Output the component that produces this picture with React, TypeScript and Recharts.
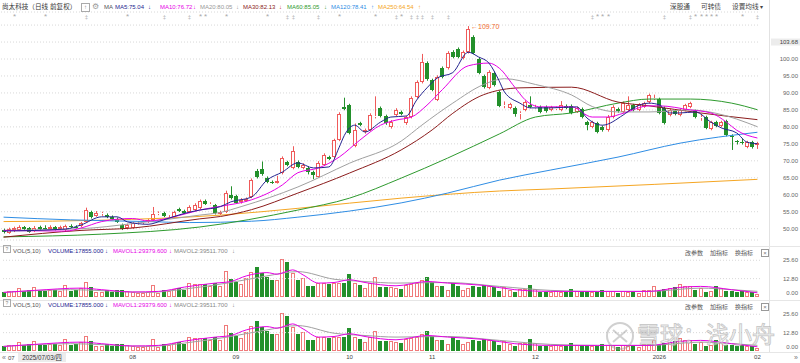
import React from "react";
import { ComposedChart, Bar, Line, XAxis, YAxis, CartesianGrid, ReferenceLine } from "recharts";

// ---- daily candles (2025/07/03 .. 2026/02) ----
const opens = [49.6,48.8,49.5,49.6,50.4,50.2,49.3,50.4,50.3,50.0,50.5,49.9,49.5,50.9,50.6,50.7,52.0,54.9,53.8,54.2,54.0,53.5,53.0,51.2,50.2,50.3,51.5,51.6,52.0,52.6,54.5,54.6,53.4,53.4,55.8,55.2,54.9,55.5,56.1,58.2,57.2,57.0,54.3,54.9,59.9,59.6,57.8,58.3,59.3,67.0,67.6,65.0,63.8,63.6,66.4,69.6,67.9,69.6,67.9,68.0,66.7,65.2,68.8,71.1,71.1,76.1,85.8,86.4,74.4,81.1,78.5,79.0,82.9,85.6,83.2,80.0,83.5,84.4,81.1,82.9,88.8,93.2,98.8,93.8,88.0,97.3,97.3,102.0,102.9,100.3,102.0,106.5,100.0,95.0,91.5,95.9,90.3,86.2,85.6,85.6,83.8,85.0,86.4,85.8,85.9,85.9,85.0,85.3,85.0,86.2,86.2,84.5,85.3,81.4,80.0,81.1,80.0,79.0,82.9,85.3,84.4,85.0,86.4,85.0,86.0,87.3,88.3,88.2,85.6,83.5,84.7,83.5,85.0,85.9,84.7,82.6,82.9,79.4,81.4,80.3,81.7,77.3,75.7,75.5,74.1,75.5,74.6];
const closes = [49.0,49.8,50.2,50.5,49.8,49.0,50.3,50.0,50.1,50.6,49.8,50.4,50.8,50.5,50.2,51.6,55.5,53.4,54.6,54.5,53.4,52.9,52.0,50.0,51.0,51.6,51.8,52.0,52.5,54.3,54.6,53.7,53.5,54.9,55.2,54.6,56.4,57.0,58.2,57.3,57.4,54.6,54.9,60.5,59.0,57.6,58.5,58.8,64.3,65.2,66.1,63.8,63.6,64.0,70.8,68.8,73.0,68.3,68.8,66.7,65.8,69.4,71.7,70.5,76.1,83.8,85.3,78.2,79.0,80.5,79.0,83.5,83.1,83.2,81.1,81.4,85.0,83.8,82.9,88.5,93.2,99.1,94.0,90.9,94.7,94.7,101.8,100.6,100.6,102.0,108.8,101.8,95.9,91.7,96.2,92.3,86.2,86.4,86.7,83.8,84.2,87.3,85.9,86.0,84.4,84.6,85.8,85.6,86.4,85.6,84.1,85.6,82.9,80.5,81.4,78.5,79.0,82.9,85.9,84.6,87.0,86.4,85.0,86.6,87.0,89.4,88.6,84.1,81.1,85.0,83.8,85.0,86.4,87.0,82.9,82.9,79.7,81.4,80.3,81.4,77.6,77.0,75.4,75.2,75.5,74.0,75.2];
const highs = [50.0,50.3,50.6,51.0,50.8,50.5,50.8,50.9,51.0,51.0,50.8,50.9,51.2,51.3,51.0,52.0,56.2,55.3,55.2,55.0,54.5,53.9,53.3,51.5,51.5,51.9,52.2,52.4,52.9,56.4,55.1,55.0,54.0,55.3,56.2,55.6,56.9,57.5,58.6,58.6,57.8,57.3,55.3,61.2,62.5,60.0,59.0,59.2,64.8,67.6,69.8,65.4,64.2,65.6,71.3,70.0,74.3,70.1,69.3,68.4,67.1,69.9,72.2,71.5,76.5,84.3,88.6,86.8,81.0,81.5,79.5,84.0,89.0,86.0,83.6,82.0,85.5,84.8,83.3,89.0,93.7,101.5,99.3,94.2,95.2,97.8,102.3,102.6,103.4,102.5,109.7,107.0,100.5,95.4,96.7,96.3,90.7,87.5,87.1,86.0,84.6,87.8,89.0,86.5,86.3,86.3,86.2,86.0,87.6,86.6,86.6,86.0,85.7,81.8,81.8,81.5,80.4,83.5,86.4,85.7,87.5,89.0,86.8,87.0,87.4,89.8,89.5,88.6,86.0,85.4,85.1,85.4,86.8,87.4,85.1,83.8,83.3,81.8,81.8,81.8,82.1,77.8,76.1,76.5,75.9,75.9,75.6];
const lows = [48.6,48.5,49.0,49.3,49.5,48.8,49.0,49.6,49.8,49.7,49.5,49.6,49.2,50.2,50.0,50.4,51.8,53.0,53.5,53.8,53.1,52.6,51.7,49.6,49.8,50.0,51.2,51.4,51.7,52.4,54.0,53.4,53.0,53.2,54.9,54.3,54.6,55.2,55.8,57.0,56.9,54.2,54.0,54.6,58.6,57.3,57.4,58.0,59.0,64.8,65.6,63.4,63.2,63.3,66.0,68.4,67.5,67.8,67.5,66.0,64.6,65.0,68.5,70.2,70.8,75.8,84.9,77.8,74.0,80.2,78.0,78.7,82.5,82.8,80.6,79.5,83.2,83.4,80.6,82.5,88.4,92.8,93.6,90.5,87.6,94.3,96.9,100.2,100.2,99.9,101.6,101.4,95.5,91.3,91.1,91.9,85.8,85.5,85.2,83.0,82.2,84.6,85.5,85.4,84.0,84.2,84.6,85.0,84.6,85.2,83.7,84.1,82.5,79.0,79.6,78.1,78.6,78.6,82.5,84.2,84.0,84.6,84.6,84.6,85.6,86.9,87.9,83.7,80.7,83.1,83.4,83.1,84.6,85.5,82.5,81.8,79.3,79.0,79.9,79.9,77.2,73.2,74.8,74.8,73.7,73.6,73.5];
// volume, in 10k lots
const volumes = [3.2,3.9,3.9,6.2,4.4,5.1,6.7,3.9,4.4,5.1,5.1,3.9,8.1,3.9,5.1,6.2,10.4,6.7,3.5,3.5,4.6,3.5,5.1,5.1,3.9,3.5,2.8,2.8,3.2,8.1,2.8,5.1,4.4,5.5,6.2,5.1,10.1,9.0,9.0,9.2,7.4,10.1,7.4,18.2,12.4,10.4,9.0,13.1,17.1,20.7,16.6,13.6,12.0,12.0,26.3,24.2,16.6,12.0,13.1,7.8,7.8,10.1,10.1,9.0,10.1,9.7,10.1,16.1,10.1,8.5,6.2,10.1,13.8,6.9,6.9,6.7,6.2,5.8,8.5,9.2,9.7,11.5,13.8,10.8,7.8,7.8,5.1,10.1,7.4,5.1,6.2,7.4,6.9,8.5,7.4,6.7,4.4,6.7,4.6,3.5,5.5,5.5,8.1,5.5,3.5,3.5,3.5,3.9,3.2,3.5,5.5,3.9,3.9,3.9,3.5,3.2,4.6,3.9,3.9,2.8,3.9,3.5,3.2,2.8,4.6,4.6,7.4,3.9,5.5,6.2,6.9,9.0,7.4,7.8,4.6,6.2,3.2,3.9,7.8,6.2,4.4,3.9,3.5,3.9,3.5,3.5,1.8];

// moving averages: [candle index, value]
const ma5Pts = [[0,49.3],[12,49.9],[15,51.1],[19,53.5],[22,53.5],[24,52.0],[28,51.3],[31,52.6],[35,54.5],[38,55.5],[42,56.5],[44,57.9],[48,59.3],[51,64.3],[54,66.7],[57,69.4],[60,67.9],[63,68.2],[65,74.0],[66,77.5],[68,80.5],[70,78.5],[73,81.4],[75,82.9],[78,83.2],[80,87.9],[82,91.5],[84,94.4],[87,96.0],[90,102.0],[92,100.6],[94,98.8],[96,93.5],[97,90.3],[100,87.0],[102,85.6],[106,85.6],[111,85.9],[113,82.6],[116,80.5],[120,83.5],[122,85.6],[125,87.0],[127,86.5],[129,84.1],[131,84.1],[134,84.4],[137,81.4],[139,79.7],[142,78.2],[144,75.5],[146,75.04]];
const ma10Pts = [[0,49.5],[12,49.3],[15,50.2],[19,52.1],[22,52.8],[25,53.0],[28,52.3],[33,53.5],[38,55.5],[42,56.6],[48,58.5],[54,62.9],[57,66.5],[61,67.9],[65,71.1],[69,76.1],[73,80.5],[76,82.0],[79,82.9],[82,86.4],[85,91.0],[90,98.0],[94,98.8],[96,97.3],[99,91.7],[101,88.0],[104,85.9],[110,85.9],[114,82.9],[117,82.9],[120,84.0],[125,86.2],[127,86.2],[133,85.0],[137,84.1],[140,81.4],[142,79.0],[146,76.72]];
const ma20Pts = [[0,49.5],[15,50.0],[25,51.5],[38,54.0],[42,54.8],[46,56.5],[57,62.3],[67,69.3],[77,75.8],[81,80.5],[87,87.0],[93,92.5],[97,94.2],[103,92.5],[110,89.4],[114,86.0],[119,84.4],[125,84.4],[133,85.0],[138,84.0],[146,80.05]];
const ma30Pts = [[0,47.5],[15,49.5],[25,50.2],[38,52.9],[42,53.6],[48,55.6],[57,60.5],[67,66.4],[77,73.2],[83,79.1],[87,84.0],[93,89.5],[100,91.5],[110,91.7],[119,87.3],[125,86.2],[135,84.1],[146,82.13]];
const ma60Pts = [[0,47.6],[19,48.4],[38,50.5],[57,55.5],[67,59.0],[77,64.9],[86,70.8],[96,77.9],[103,82.9],[110,84.1],[119,87.0],[125,88.2],[133,88.2],[141,87.0],[146,85.05]];
const ma120Pts = [[0,53.4],[13,52.6],[28,52.1],[36,51.8],[48,52.2],[57,53.4],[67,55.2],[77,57.6],[86,60.5],[96,64.3],[106,67.3],[119,71.1],[131,75.2],[146,78.41]];
const ma250Pts = [[0,52.1],[19,52.5],[42,54.0],[57,56.0],[77,59.0],[96,61.1],[106,61.7],[146,64.54]];
const mavol1Pts = [[0,3.2],[6,4.6],[15,6.2],[19,5.1],[25,3.5],[30,3.9],[35,6.9],[41,9.7],[44,10.8],[47,14.7],[51,17.0],[53,15.9],[56,18.9],[58,15.4],[61,9.7],[64,10.1],[67,12.0],[70,10.1],[76,7.8],[82,10.8],[86,9.7],[93,8.1],[99,5.1],[106,3.9],[115,3.9],[125,3.9],[131,6.7],[135,7.4],[141,5.1],[146,2.94]];
const mavol2Pts = [[0,3.2],[13,5.1],[28,3.2],[35,5.5],[44,10.1],[51,14.7],[57,17.7],[64,12.4],[70,10.8],[76,9.7],[86,10.1],[96,7.4],[106,4.6],[115,3.9],[125,3.9],[135,6.2],[141,5.1],[146,3.95]];

const monthTicks = [[25,"08"],[45,"09"],[67,"10"],[83,"11"],[103,"12"],[127,"2026"],[146,"02"]];
const starIdx = [2,8,24,38,39,43,51,65,72,77,115,116,117,134,135,136,137,138,143];
const dagIdx = [16,31,36,55,56,61,76,79,80,81,83,86,114,128,133,146];
const priceTicks = [50,55,60,65,70,75,80,85,90,95,100,105,110];
const volTicks = [0,12.8,25.6];

const UP = "#ef5a5a";
const VUP = "#f07a7a";
const DOWN = "#23902b";
const MARK_Y = 112.4;

function sparse(pts: number[][], n: number) {
  const a: (number | null)[] = new Array(n).fill(null);
  pts.forEach(([i, v]) => { a[i] = v; });
  return a;
}
const N = opens.length;
const cols = {
  ma5: sparse(ma5Pts, N), ma10: sparse(ma10Pts, N), ma20: sparse(ma20Pts, N), ma30: sparse(ma30Pts, N),
  ma60: sparse(ma60Pts, N), ma120: sparse(ma120Pts, N), ma250: sparse(ma250Pts, N),
  mv1: sparse(mavol1Pts, N), mv2: sparse(mavol2Pts, N),
};
const monthMap: Record<number, string> = {};
monthTicks.forEach(([i, t]) => { monthMap[i as number] = t as string; });
const peakHigh = Math.max(...highs);

const rows = opens.map((o, i) => ({
  i, o, c: closes[i], h: highs[i], l: lows[i], v: volumes[i],
  ma5: cols.ma5[i], ma10: cols.ma10[i], ma20: cols.ma20[i], ma30: cols.ma30[i],
  ma60: cols.ma60[i], ma120: cols.ma120[i], ma250: cols.ma250[i],
  mv1: cols.mv1[i], mv2: cols.mv2[i],
  mark: starIdx.includes(i) ? "*" : dagIdx.includes(i) ? "‡" : "",
}));

function Candle(props: any) {
  const { x, y, width, height, payload } = props;
  if (x == null || !payload) return null;
  const { o, c, h, l, mark } = payload;
  const top = height < 0 ? y + height : y;
  const k = Math.abs(height) / (h - l);
  const py = (v: number) => top + (h - v) * k;
  const up = c >= o;
  const col = up ? UP : DOWN;
  const c0 = Math.floor(x + width / 2);
  const bt = Math.round(py(Math.max(o, c)));
  const bb = Math.max(bt + 1, Math.round(py(Math.min(o, c))));
  return (
    <g>
      <line x1={c0 + 0.5} x2={c0 + 0.5} y1={py(h)} y2={bt} stroke={col} strokeWidth={1} />
      <line x1={c0 + 0.5} x2={c0 + 0.5} y1={bb} y2={py(l)} stroke={col} strokeWidth={1} />
      {up ? (
        <rect x={c0 - 1.5} y={bt + 0.5} width={3} height={Math.max(0, bb - bt - 1)} fill="#fff" stroke={col} strokeWidth={1} />
      ) : (
        <rect x={c0 - 2} y={bt} width={4} height={bb - bt} fill={col} />
      )}
      {mark ? (
        <text x={c0 + 0.5} y={py(MARK_Y)} textAnchor="middle" dominantBaseline="central" fontSize={mark === "*" ? 8 : 6} fill="#a8a8a8">{mark}</text>
      ) : null}
      {h === peakHigh ? (
        <text x={c0 + 3} y={py(h) + 0.5} dominantBaseline="central" fontSize={7} fill="#f06a2a" fontFamily="Liberation Sans">←109.70</text>
      ) : null}
    </g>
  );
}

function VolBar(props: any) {
  const { x, y, width, height, payload } = props;
  if (x == null || !payload) return null;
  const up = payload.c >= payload.o;
  const c0 = Math.floor(x + width / 2);
  const t = Math.round(Math.min(y, y + height));
  const b = Math.round(Math.max(y, y + height));
  if (up) return <rect x={c0 - 1.5} y={t + 0.5} width={3} height={Math.max(0, b - t - 1)} fill="#fff" stroke={VUP} strokeWidth={1} />;
  return <rect x={c0 - 2} y={t} width={4} height={b - t} fill={DOWN} />;
}

function PriceTick(props: any) {
  const { y, payload } = props;
  const v = payload.value;
  if (v === 110) return <g />;
  if (v === 105) {
    return (
      <g>
        <rect x={771} y={y - 3.5} width={29} height={7} fill="#ececec" />
        <text x={798} y={y} textAnchor="end" dominantBaseline="central" fontSize={6} fill="#444">103.68</text>
      </g>
    );
  }
  return <text x={798} y={y} textAnchor="end" dominantBaseline="central" fontSize={6} fill="#666">{v.toFixed(2)}</text>;
}

function VolTick(props: any) {
  const { y, payload } = props;
  const v = payload.value;
  return <text x={798} y={v === 0 ? y - 4 : y} textAnchor="end" dominantBaseline="central" fontSize={6} fill="#666">{v.toFixed(2)}</text>;
}

function MonthTick(props: any) {
  const { x, y, payload } = props;
  const t = monthMap[payload.value];
  if (!t) return <g />;
  return <text x={x} y={y} textAnchor="middle" dominantBaseline="central" fontSize={6} fill="#444">{t}</text>;
}

const maLines = [
  ["ma250", "#f5a623"], ["ma120", "#2f8de4"], ["ma60", "#2e9a2e"], ["ma30", "#8b1c1c"],
  ["ma20", "#a0a0a0"], ["ma10", "#e600e6"], ["ma5", "#24248f"],
];

function T({ x, y, s = 6, c = "#555", children }: any) {
  return <span style={{ position: "absolute", left: x, top: y, fontSize: s, color: c, lineHeight: 1, whiteSpace: "nowrap" }}>{children}</span>;
}

function VolPanel({ top, height, axis }: { top: number; height: number; axis: boolean }) {
  return (
    <div style={{ position: "absolute", left: 0, top }}>
      <ComposedChart width={800} height={height} data={rows} margin={{ top: 9, right: 11, bottom: axis ? 0 : 3, left: 1 }}>
        <XAxis dataKey="i" hide={!axis} height={12} interval={0} tick={MonthTick} axisLine={false} tickLine={false} tickSize={0} tickMargin={6} />
        <YAxis orientation="right" width={29} domain={[0, 29.27]} ticks={volTicks} interval={0} tick={VolTick} axisLine={false} tickLine={false} />
        <ReferenceLine y={12.8} stroke="#d8d8d8" strokeDasharray="1 2" />
        <ReferenceLine y={25.6} stroke="#d8d8d8" strokeDasharray="1 2" />
        <Bar dataKey="v" shape={VolBar} barSize={4} isAnimationActive={false} />
        <Line dataKey="mv2" stroke="#a0a0a0" strokeWidth={1} dot={false} connectNulls type="monotone" isAnimationActive={false} />
        <Line dataKey="mv1" stroke="#e600e6" strokeWidth={1} dot={false} connectNulls type="monotone" isAnimationActive={false} />
      </ComposedChart>
    </div>
  );
}

function VolHeader({ y }: { y: number }) {
  return (
    <>
      <span style={{ position: "absolute", left: 3, top: y - 3, width: 6, height: 6, border: "1px solid #aaa", fontSize: 5, lineHeight: "6px", textAlign: "center", color: "#888" }}>?</span>
      <T x={13} y={y} c="#555">VOL(5,10)</T>
      <T x={48} y={y} c="#24248f">VOLUME:17855.000</T>
      <T x={105} y={y} c="#24248f">↓</T>
      <T x={113} y={y} c="#e600e6">MAVOL1:29379.600</T>
      <T x={169} y={y} c="#e600e6">↓</T>
      <T x={174} y={y} c="#888">MAVOL2:39511.700</T>
      <T x={232} y={y} c="#888">↓</T>
      <T x={685} y={y + 2} c="#555">改参数</T>
      <T x={710} y={y + 2} c="#555">加指标</T>
      <T x={735} y={y + 2} c="#555">换指标</T>
      <span style={{ position: "absolute", left: 761, top: y + 1, width: 6, height: 6, border: "1px solid #999", fontSize: 6, lineHeight: "6px", textAlign: "center", color: "#777" }}>×</span>
    </>
  );
}

export default function App() {
  return (
    <div style={{ position: "relative", width: 800, height: 363, background: "#fff", overflow: "hidden", fontFamily: '"Liberation Sans", "Noto Sans CJK SC", sans-serif' }}>
      <style>{`body{margin:0}`}</style>
      <div style={{ position: "absolute", left: 0, top: 0 }}>
        <ComposedChart width={800} height={246} data={rows} margin={{ top: 12, right: 11, bottom: 6, left: 1 }}>
          <CartesianGrid vertical={false} stroke="#d8d8d8" strokeDasharray="1 2" />
          <XAxis dataKey="i" hide />
          <YAxis orientation="right" width={29} domain={[46.67, 113.85]} ticks={priceTicks} interval={0} tick={PriceTick} axisLine={false} tickLine={false} />
          <Bar dataKey={(d: any) => [d.l, d.h]} shape={Candle} barSize={4} isAnimationActive={false} />
          {maLines.map(([k, c]) => (
            <Line key={k} dataKey={k} stroke={c} strokeWidth={1} dot={false} connectNulls type="monotone" isAnimationActive={false} />
          ))}
        </ComposedChart>
      </div>
      <VolPanel top={246} height={54} axis={false} />
      <VolPanel top={300} height={63} axis={true} />

      {/* frame lines */}
      <div style={{ position: "absolute", left: 769, top: 0, width: 1, height: 352, background: "#e2e2e2" }} />
      <div style={{ position: "absolute", left: 0, top: 246, width: 800, height: 1, background: "#e6e6e6" }} />
      <div style={{ position: "absolute", left: 0, top: 300, width: 800, height: 1, background: "#e6e6e6" }} />
      <div style={{ position: "absolute", left: 0, top: 352, width: 800, height: 1, background: "#e6e6e6" }} />

      {/* header */}
      <T x={2} y={3.5} s={6.6} c="#333">尚太科技（日线 前复权）</T>
      <span style={{ position: "absolute", left: 81, top: 3, width: 7, height: 7, border: "1px solid #aaa", fontSize: 6, lineHeight: "7px", textAlign: "center", color: "#888" }}>↑</span>
      <T x={92} y={2.5} s={8} c="#999">⚙</T>
      <T x={104} y={4} c="#555">MA</T>
      <T x={115} y={4} c="#24248f">MA5:75.04</T><T x={148} y={4} c="#24248f">↓</T>
      <T x={160} y={4} c="#e600e6">MA10:76.72</T><T x={193} y={4} c="#e600e6">↓</T>
      <T x={200} y={4} c="#999">MA20:80.05</T><T x={236} y={4} c="#999">↓</T>
      <T x={243} y={4} c="#8b1c1c">MA30:82.13</T><T x={279} y={4} c="#c02020">↓</T>
      <T x={287} y={4} c="#2e9a2e">MA60:85.05</T><T x={324} y={4} c="#2e9a2e">↓</T>
      <T x={331} y={4} c="#2f8de4">MA120:78.41</T><T x={371} y={4} c="#2f8de4">↑</T>
      <T x={378} y={4} c="#f5a623">MA250:64.54</T><T x={418} y={4} c="#f5a623">↑</T>
      <T x={670} y={3.5} s={6.7} c="#444">深股通</T>
      <T x={701} y={3.5} s={6.7} c="#444">可转债</T>
      <T x={732} y={3.5} s={6.7} c="#444">设置均线</T>
      <T x={760} y={4} s={6} c="#444">▾</T>

      <VolHeader y={247.5} />
      <VolHeader y={301.5} />

      {/* bottom axis extras */}
      <T x={2} y={354} s={7} c="#777">«</T>
      <T x={8} y={354.5} c="#444">07</T>
      <span style={{ position: "absolute", left: 18, top: 352.5, width: 48, height: 9, background: "#ececec", fontSize: 6.3, lineHeight: "9px", textAlign: "center", color: "#333" }}>2025/07/03/四</span>
      <T x={794} y={354} s={7} c="#777">»</T>

      {/* watermark */}
      <svg style={{ position: "absolute", left: 604, top: 320 }} width={32} height={32}>
        <circle cx={16} cy={16} r={13} fill="none" stroke="rgba(150,150,150,0.45)" strokeWidth={2} />
        <path d="M9 10 L23 22 M23 10 L9 22" stroke="rgba(150,150,150,0.45)" strokeWidth={2} />
      </svg>
      <span style={{ position: "absolute", left: 637, top: 322, fontSize: 23, lineHeight: 1, color: "rgba(255,255,255,0.55)", WebkitTextStroke: "1px rgba(150,150,150,0.5)", whiteSpace: "nowrap", fontFamily: '"Noto Sans CJK SC"' }}>雪球：浅小舟</span>
    </div>
  );
}
